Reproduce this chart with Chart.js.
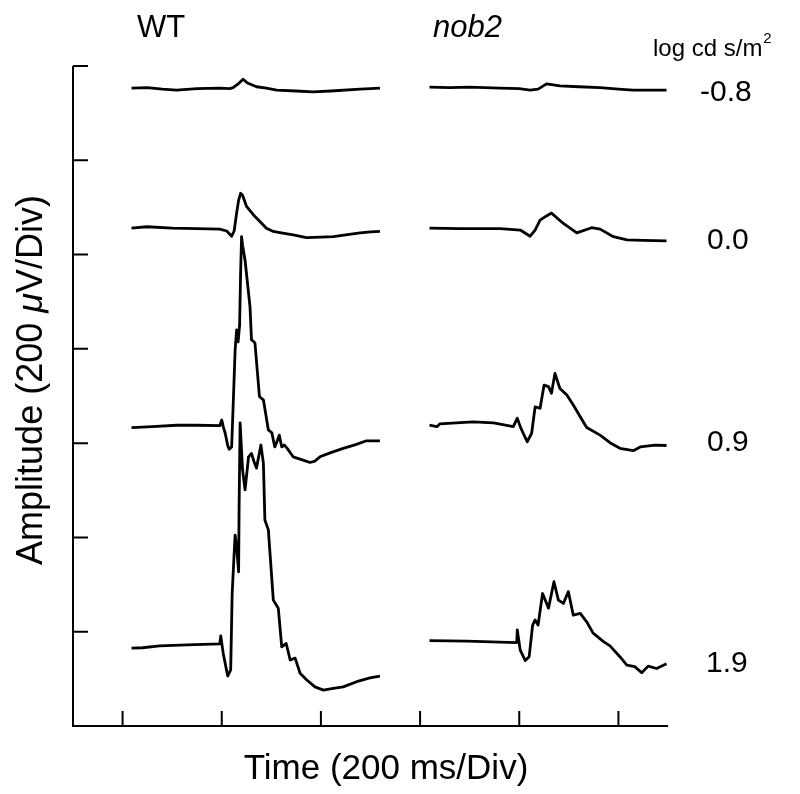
<!DOCTYPE html>
<html>
<head>
<meta charset="utf-8">
<script src="https://cdn.jsdelivr.net/npm/chart.js@4.4.0/dist/chart.umd.min.js"></script>
<style>
  body { margin: 0; background: #fff; }
</style>
</head>
<body>
<canvas id="ergChart" width="800" height="794"></canvas>
<script>
// axis ticks (ms and microvolts)
const xTicks = [100, 300, 500, 700, 900, 1100];
const yTicks = [200, 400, 600, 800, 1000, 1200, 1400];
const intensities = ['-0.8', '0.0', '0.9', '1.9'];

// WT traces: time (ms) and amplitude (uV, offset per trace)
const wtTimeM08 = [118, 150, 180, 209, 250, 296, 316, 323, 333, 343, 352, 370, 390, 411, 450, 484, 520, 579, 600, 619];
const wtAmpM08  = [1353, 1354, 1351, 1349, 1352, 1353, 1352, 1354, 1362, 1372, 1364, 1356, 1353, 1349, 1347, 1345, 1347, 1351, 1352, 1353];

const wtTime00 = [118, 149, 200, 250, 296, 310, 320, 325, 330, 334, 338, 342, 350, 364, 377, 390, 404, 420, 444, 471, 500, 525, 550, 579, 600, 619];
const wtAmp00  = [1056, 1059, 1056, 1055, 1054, 1050, 1039, 1050, 1088, 1115, 1130, 1126, 1102, 1084, 1070, 1056, 1049, 1046, 1042, 1036, 1037, 1038, 1042, 1046, 1048, 1049];

const wtTime09 = [118, 160, 209, 250, 296, 300, 303, 307, 312, 315, 320, 323, 327, 330, 333, 336, 338, 340, 342, 347, 357, 360, 364, 367, 376, 380, 384, 394, 401, 407, 412, 416, 421, 426, 432, 444, 464, 478, 488, 498, 520, 545, 570, 592, 619];
const wtAmp09  = [633, 635, 638, 638, 637, 649, 635, 621, 595, 587, 592, 680, 798, 840, 815, 850, 960, 1038, 1020, 988, 889, 819, 816, 812, 699, 695, 692, 628, 622, 592, 605, 617, 592, 596, 589, 571, 564, 559, 562, 571, 580, 589, 597, 605, 605];

const wtTime19 = [118, 140, 175, 230, 296, 298, 303, 312, 318, 321, 325, 327, 330, 334, 335, 337, 342, 347, 354, 360, 365, 370, 379, 384, 387, 394, 404, 414, 421, 430, 438, 448, 458, 471, 488, 505, 525, 545, 572, 599, 619];
const wtAmp19  = [165, 166, 170, 172, 174, 191, 154, 106, 119, 281, 366, 405, 380, 327, 465, 643, 543, 501, 571, 578, 561, 547, 596, 557, 437, 416, 267, 250, 168, 175, 140, 144, 112, 98, 83, 76, 80, 83, 94, 102, 106];

// nob2 traces
const nobTimeM08 = [719, 760, 800, 861, 900, 922, 938, 955, 982, 1020, 1063, 1100, 1130, 1197];
const nobAmpM08  = [1355, 1354, 1355, 1353, 1352, 1349, 1351, 1362, 1358, 1356, 1354, 1351, 1349, 1349];

const nobTime00 = [719, 780, 861, 902, 922, 932, 942, 955, 965, 989, 1016, 1046, 1063, 1090, 1117, 1150, 1197];
const nobAmp00  = [1056, 1055, 1055, 1052, 1039, 1052, 1073, 1082, 1088, 1066, 1046, 1057, 1054, 1038, 1031, 1030, 1029];

const nobTime09 = [719, 734, 740, 807, 848, 888, 896, 902, 908, 916, 925, 932, 942, 950, 959, 965, 972, 982, 996, 1009, 1023, 1036, 1063, 1083, 1103, 1130, 1144, 1174, 1197];
const nobAmp09  = [638, 635, 641, 645, 643, 635, 653, 635, 621, 603, 621, 677, 674, 723, 720, 706, 748, 716, 702, 681, 656, 633, 617, 601, 589, 584, 592, 596, 595];

const nobTime19 = [719, 794, 895, 896, 902, 912, 920, 927, 932, 938, 947, 959, 970, 979, 989, 999, 1009, 1023, 1036, 1049, 1070, 1083, 1103, 1117, 1133, 1147, 1160, 1177, 1197];
const nobAmp19  = [181, 180, 177, 204, 161, 139, 147, 214, 225, 214, 281, 250, 306, 267, 260, 285, 235, 239, 221, 197, 179, 170, 147, 129, 126, 113, 127, 122, 132];

const traces = [
  [wtTimeM08, wtAmpM08], [wtTime00, wtAmp00], [wtTime09, wtAmp09], [wtTime19, wtAmp19],
  [nobTimeM08, nobAmpM08], [nobTime00, nobAmp00], [nobTime09, nobAmp09], [nobTime19, nobAmp19]
];

const FONT = "'Liberation Sans', Arial, sans-serif";

const frame = {
  id: 'frame',
  afterDraw(chart) {
    const { ctx, chartArea: a, scales: { x, y } } = chart;
    ctx.save();
    ctx.strokeStyle = '#000';
    ctx.lineWidth = 2;
    ctx.beginPath();
    ctx.moveTo(a.left, a.top);
    ctx.lineTo(a.left, a.bottom);
    ctx.lineTo(a.right, a.bottom);
    xTicks.forEach(v => {
      const px = x.getPixelForValue(v);
      ctx.moveTo(px, a.bottom);
      ctx.lineTo(px, a.bottom - 15);
    });
    yTicks.forEach(v => {
      const py = y.getPixelForValue(v);
      ctx.moveTo(a.left, py);
      ctx.lineTo(a.left + 15, py);
    });
    ctx.stroke();

    ctx.fillStyle = '#000';
    ctx.textBaseline = 'alphabetic';
    ctx.textAlign = 'left';

    ctx.font = '31px ' + FONT;
    ctx.fillText('WT', 137, 37);
    ctx.font = 'italic 31px ' + FONT;
    ctx.fillText('nob2', 433, 37);

    ctx.font = '24px ' + FONT;
    const unit = 'log cd s/m';
    ctx.fillText(unit, 653, 56);
    const uw = ctx.measureText(unit).width;
    ctx.font = '15px ' + FONT;
    ctx.fillText('2', 653 + uw + 1, 43);

    ctx.font = '30px ' + FONT;
    const labelPos = [[700, 101], [707, 249], [707, 451], [706, 672]];
    intensities.forEach((t, i) => ctx.fillText(t, labelPos[i][0], labelPos[i][1]));

    ctx.font = '35px ' + FONT;
    ctx.textAlign = 'center';
    ctx.fillText('Time (200 ms/Div)', 386, 779);

    // y title with italic mu
    ctx.translate(42, 380);
    ctx.rotate(-Math.PI / 2);
    ctx.textAlign = 'left';
    const parts = [['Amplitude (200 ', ''], ['\u03bc', 'italic '], ['V/Div)', '']];
    let total = 0;
    parts.forEach(p => { ctx.font = p[1] + '36px ' + FONT; total += ctx.measureText(p[0]).width; });
    let cx = -total / 2;
    parts.forEach(p => {
      ctx.font = p[1] + '36px ' + FONT;
      ctx.fillText(p[0], cx, 0);
      cx += ctx.measureText(p[0]).width;
    });
    ctx.restore();
  }
};

new Chart(document.getElementById('ergChart'), {
  type: 'scatter',
  data: {
    datasets: traces.map(tr => ({
      data: tr[0].map((t, i) => ({ x: t, y: tr[1][i] })),
      showLine: true,
      borderColor: '#000',
      borderWidth: 2.8,
      borderJoinStyle: 'round',
      pointRadius: 0,
      tension: 0
    }))
  },
  options: {
    responsive: false,
    animation: false,
    layout: { padding: { left: 73, top: 66, right: 132, bottom: 68 } },
    scales: {
      x: { type: 'linear', min: 0, max: 1200, display: false },
      y: { type: 'linear', min: 0, max: 1400, display: false }
    },
    plugins: {
      legend: { display: false },
      tooltip: { enabled: false }
    }
  },
  plugins: [frame]
});
</script>
</body>
</html>
